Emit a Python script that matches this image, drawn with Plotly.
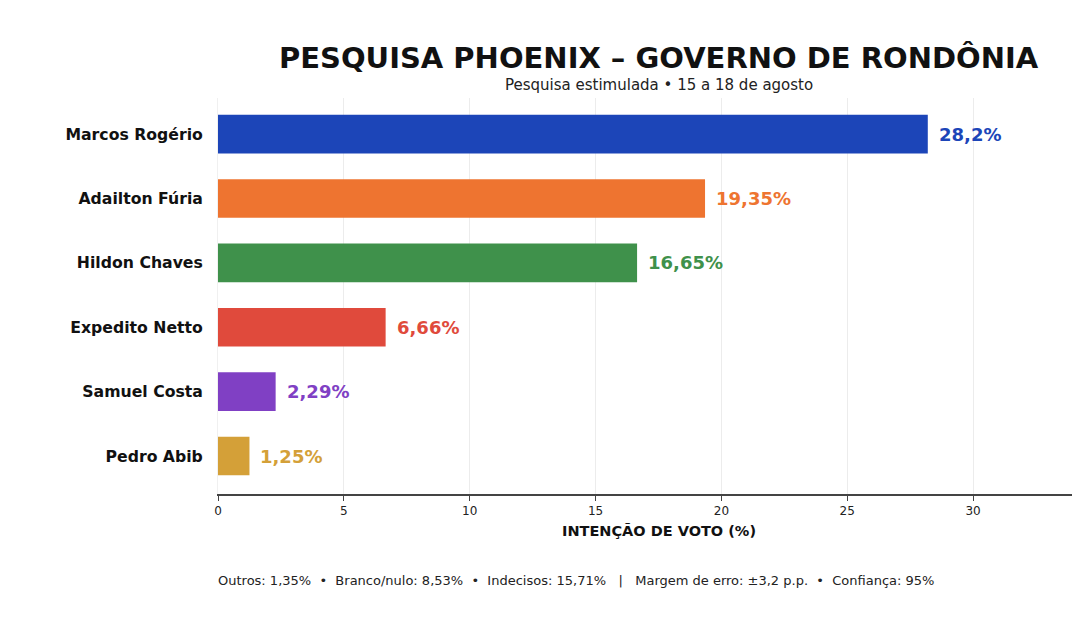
import plotly.graph_objects as go

candidatos = ["Marcos Rogério", "Adailton Fúria", "Hildon Chaves",
              "Expedito Netto", "Samuel Costa", "Pedro Abib"]
votos = [28.2, 19.35, 16.65, 6.66, 2.29, 1.25]
cores = ["#1c45b8", "#ee7430", "#3f914b", "#e04a3c", "#8040c4", "#d4a038"]
tick_vals = [0, 5, 10, 15, 20, 25, 30]

titulo = "PESQUISA PHOENIX – GOVERNO DE RONDÔNIA"
subtitulo = "Pesquisa estimulada • 15 a 18 de agosto"
eixo_x = "INTENÇÃO DE VOTO (%)"
rodape = ("Outros: 1,35%  •  Branco/nulo: 8,53%  •  Indecisos: 15,71%   |   "
          "Margem de erro: ±3,2 p.p.  •  Confiança: 95%")

FONT = "DejaVu Sans"
# a pagina desloca a figura ~7px, compensa aqui
OFF = 7
W, H = 1080 - OFF, 633 - OFF
L, R, T, B = 217 - OFF, 0, 97 - OFF, 633 - 493

fig = go.Figure()
fig.add_trace(go.Bar(
    x=votos,
    y=candidatos,
    orientation="h",
    marker=dict(color=cores, line=dict(width=0)),
    width=0.6,
    hoverinfo="skip",
))

# rotulos de valor ao lado das barras
for c, v, cor in zip(candidatos, votos, cores):
    fig.add_annotation(
        x=v, y=c, xref="x", yref="y",
        text="<b>" + str(v).replace(".", ",") + "%</b>",
        showarrow=False, xanchor="left", xshift=9,
        font=dict(family=FONT, size=18, color=cor),
    )

def px_x(p):
    return (p - OFF - L) / (W - L - R)

def px_y(p):
    return 1 - (p - OFF - T) / (H - T - B)

fig.add_annotation(
    x=px_x(658), y=px_y(57), xref="paper", yref="paper",
    text="<b>" + titulo + "</b>", showarrow=False,
    xanchor="center", yanchor="middle",
    font=dict(family=FONT, size=29, color="#111111"),
)
fig.add_annotation(
    x=px_x(658), y=px_y(84), xref="paper", yref="paper",
    text=subtitulo, showarrow=False,
    xanchor="center", yanchor="middle",
    font=dict(family=FONT, size=15, color="#222222"),
)
fig.add_annotation(
    x=px_x(658), y=px_y(530), xref="paper", yref="paper",
    text="<b>" + eixo_x + "</b>", showarrow=False,
    xanchor="center", yanchor="middle",
    font=dict(family=FONT, size=14.5, color="#111111"),
)
fig.add_annotation(
    x=px_x(575), y=px_y(579), xref="paper", yref="paper",
    text=rodape, showarrow=False,
    xanchor="center", yanchor="middle",
    font=dict(family=FONT, size=13, color="#222222"),
)

fig.update_layout(
    width=W, height=H,
    margin=dict(l=L, r=R, t=T, b=B),
    paper_bgcolor="white",
    plot_bgcolor="white",
    showlegend=False,
    font=dict(family=FONT),
)
fig.update_xaxes(
    range=[0, (W - L - R) / 25.17],
    tickvals=tick_vals,
    ticks="outside", ticklen=5, tickcolor="#444444", tickwidth=1,
    tickfont=dict(family=FONT, size=12, color="#222222"),
    showgrid=True, gridcolor="#ececec", gridwidth=1,
    showline=True, linecolor="#444444", linewidth=1.5,
    zeroline=False,
)
fig.update_yaxes(
    categoryorder="array", categoryarray=candidatos,
    range=[5.59, -0.56],
    tickfont=dict(family=FONT, size=15.7, color="#111111"),
    ticklabelstandoff=11,
    showgrid=False, zeroline=False,
    showline=True, linecolor="#f0f0f0", linewidth=1,
    ticks="",
)
fig.update_yaxes(tickprefix="<b>", ticksuffix="</b>")

fig.write_html("out.html")
